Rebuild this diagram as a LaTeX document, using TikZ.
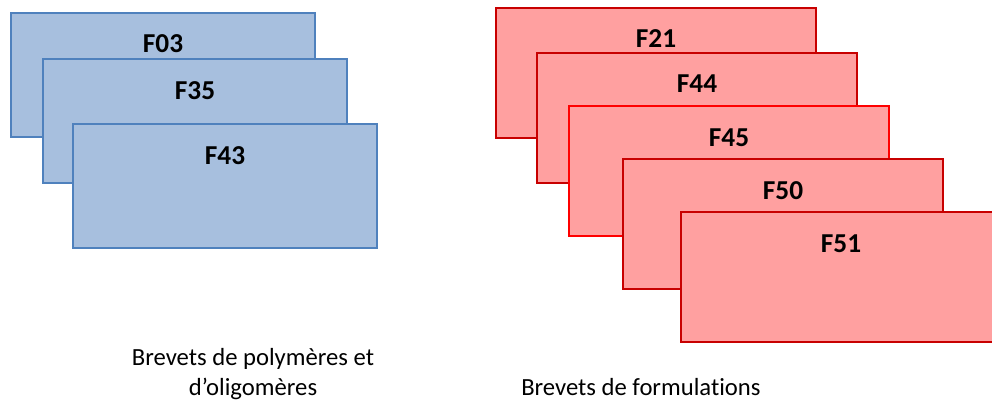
\documentclass[tikz,border=0pt]{standalone}
\usepackage{fontspec}
\setmainfont{Carlito}[Ligatures=NoCommon]
\usetikzlibrary{calc}
\begin{document}
\begin{tikzpicture}[x=0.75pt,y=-0.75pt,
  card/.style={rectangle,inner sep=0pt,outer sep=0pt,anchor=north west,line width=1.5pt},
  bluecard/.style={card,draw=polyedge,fill=polyfill,minimum width=228pt,minimum height=93pt},
  redcard/.style={card,draw=formedge,fill=formfill,minimum width=240pt,minimum height=97.5pt},
  tag/.style={anchor=base,inner sep=0pt,font=\fontsize{20.5}{24}\selectfont\bfseries},
  caption/.style={inner sep=0pt,font=\fontsize{18.5}{22.5}\selectfont}]
\definecolor{polyfill}{HTML}{A7BFDE}
\definecolor{polyedge}{HTML}{4F81BD}
\definecolor{formfill}{HTML}{FFA0A0}
\definecolor{formedge}{HTML}{C80000}
\definecolor{formedgebright}{HTML}{FF0000}
\useasboundingbox (0,0) rectangle (992,403);
\clip (0,0) rectangle (992,403);

% polymer / oligomer patent families
\node[bluecard] (f03) at (11,13) {};
\node[tag] (f03t) at ($(f03.north)+(0,40)$) {F03};
\node[bluecard] (f35) at (43,59) {};
\node[tag] (f35t) at ($(f35.north)+(0,40)$) {F35};
\node[bluecard] (f43) at (73,124) {};
\node[tag] (f43t) at ($(f43.north)+(0,40)$) {F43};

% formulation patent families
\node[redcard] (f21) at (496,8) {};
\node[tag] (f21t) at ($(f21.north)+(0,40)$) {F21};
\node[redcard] (f44) at (537,53) {};
\node[tag] (f44t) at ($(f44.north)+(0,40)$) {F44};
\node[redcard,draw=formedgebright] (f45) at (569,106) {};
\node[tag] (f45t) at ($(f45.north)+(0,40)$) {F45};
\node[redcard] (f50) at (623,159) {};
\node[tag] (f50t) at ($(f50.north)+(0,40)$) {F50};
\node[redcard] (f51) at (681,212) {};
\node[tag] (f51t) at ($(f51.north)+(0,40)$) {F51};

% captions
\node[caption,align=center,anchor=base] (polycap) at (253,395) {Brevets de polymères et\\d’oligomères};
\node[caption,anchor=base west] (formcap) at (521,395) {Brevets de formulations};
\end{tikzpicture}
\end{document}
